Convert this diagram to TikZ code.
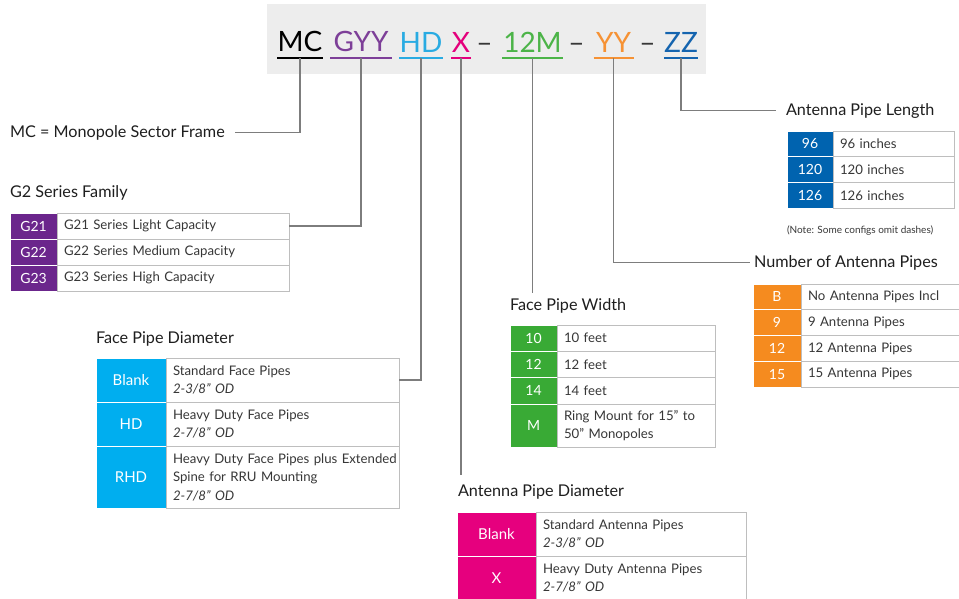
\documentclass[tikz,border=0pt]{standalone}
\usepackage{fontspec}
\setmainfont{Lato}
\usetikzlibrary{positioning}
\definecolor{band}{RGB}{237,237,237}
\definecolor{rule}{RGB}{190,190,190}
\definecolor{linkc}{RGB}{125,125,125}
\definecolor{txt}{RGB}{55,55,55}
\definecolor{head}{RGB}{30,30,30}
\definecolor{gyyc}{RGB}{125,63,152}
\definecolor{pfam}{RGB}{107,38,140}
\definecolor{hdc}{RGB}{41,171,226}
\definecolor{fpdc}{RGB}{0,174,239}
\definecolor{xc}{RGB}{228,0,124}
\definecolor{apdc}{RGB}{230,0,126}
\definecolor{wc}{RGB}{76,180,72}
\definecolor{fpwc}{RGB}{57,170,53}
\definecolor{yyc}{RGB}{246,146,52}
\definecolor{napc}{RGB}{245,139,31}
\definecolor{zzc}{RGB}{20,100,175}
\definecolor{aplc}{RGB}{0,99,175}

\begin{document}
\begin{tikzpicture}[
  x=1pt, y=-1pt,
  every node/.style={inner sep=0pt, outer sep=0pt},
  seg/.style={font=\fontsize{28}{30}\selectfont, anchor=south, inner ysep=6pt},
  ul/.style={line width=1.6pt},
  head/.style={anchor=base west, font=\fontsize{16.2}{18}\selectfont, text=head},
  note/.style={anchor=base west, font=\fontsize{10}{12}\selectfont, text=txt},
  code/.style={fill=#1, draw=white, line width=0.8pt, text=white, anchor=north west,
               align=center, font=\fontsize{14}{16}\selectfont},
  desc/.style={fill=white, draw=rule, line width=0.8pt, align=left, text width=#1,
               inner xsep=7pt, font=\fontsize{13.2}{18.5}\selectfont, text=txt},
  link/.style={draw=linkc, line width=1.2pt},
  g2code/.style={code=pfam, minimum width=47pt, minimum height=26pt},
  g2desc/.style={desc=218pt, minimum height=26pt},
  fpdcode/.style={code=fpdc, minimum width=70pt, font=\fontsize{15}{17}\selectfont},
  fpddesc/.style={desc=219pt},
  fpwcode/.style={code=fpwc, minimum width=47pt},
  fpwdesc/.style={desc=144pt},
  apdcode/.style={code=apdc, minimum width=79pt, minimum height=44pt,
                  font=\fontsize{15}{17}\selectfont},
  apddesc/.style={desc=196pt, minimum height=44pt},
  aplcode/.style={code=aplc, minimum width=46pt, minimum height=25.7pt},
  apldesc/.style={desc=107pt, minimum height=25.7pt},
  napcode/.style={code=napc, minimum width=48pt, minimum height=25.8pt},
  napdesc/.style={desc=160pt, minimum height=25.8pt},
]
\useasboundingbox (0,0) rectangle (959,598);
\clip (0,0) rectangle (959,598);

% part number band
\fill[band] (267,4) rectangle (706,74);
\node[seg, text=black, minimum width=46pt] (mc) at (300,58) {MC};
\node[seg, text=gyyc, minimum width=62pt] (gyy) at (361,58) {GYY};
\node[seg, text=hdc, minimum width=44pt] (hd) at (421,58) {HD};
\node[seg, text=xc, minimum width=20pt] (xseg) at (461,58) {X};
\node[seg, text=txt] (dash1) at (484.5,58) {--};
\node[seg, text=wc, minimum width=61pt] (twelve) at (532.5,58) {12M};
\node[seg, text=txt] (dash2) at (576.5,58) {--};
\node[seg, text=yyc, minimum width=40pt] (yy) at (613.5,58) {YY};
\node[seg, text=txt] (dash3) at (647.5,58) {--};
\node[seg, text=zzc, minimum width=34pt] (zz) at (681,58) {ZZ};
\draw[ul, black] (mc.south west) -- (mc.south east);
\draw[ul, gyyc] (gyy.south west) -- (gyy.south east);
\draw[ul, hdc] (hd.south west) -- (hd.south east);
\draw[ul, xc] (xseg.south west) -- (xseg.south east);
\draw[ul, wc] (twelve.south west) -- (twelve.south east);
\draw[ul, yyc] (yy.south west) -- (yy.south east);
\draw[ul, zzc] (zz.south west) -- (zz.south east);

% headings
\node[head] (mcnote) at (10,137) {MC = Monopole Sector Frame};
\node[head] (g2head) at (10,197) {G2 Series Family};
\node[head] (fpdhead) at (96,343) {Face Pipe Diameter};
\node[head] (fpwhead) at (510,310) {Face Pipe Width};
\node[head] (apdhead) at (458,496) {Antenna Pipe Diameter};
\node[head] (aplhead) at (786,115) {Antenna Pipe Length};
\node[head] (naphead) at (754,267) {Number of Antenna Pipes};
\node[note] (note) at (787,233) {(Note: Some configs omit dashes)};

% G2 series family
\node[g2code] (g21) at (10,213) {G21};
\node[g2desc, right=0pt of g21] (g21d) {G21 Series Light Capacity};
\node[g2code, below=0pt of g21] (g22) {G22};
\node[g2desc, right=0pt of g22] (g22d) {G22 Series Medium Capacity};
\node[g2code, below=0pt of g22] (g23) {G23};
\node[g2desc, right=0pt of g23] (g23d) {G23 Series High Capacity};

% face pipe diameter
\node[fpdcode, minimum height=44pt] (fpdA) at (96,358) {Blank};
\node[fpddesc, minimum height=44pt, right=0pt of fpdA] (fpdAd)
  {Standard Face Pipes\\\textit{2-3/8” OD}};
\node[fpdcode, minimum height=44pt, below=0pt of fpdA] (fpdB) {HD};
\node[fpddesc, minimum height=44pt, right=0pt of fpdB] (fpdBd)
  {Heavy Duty Face Pipes\\\textit{2-7/8” OD}};
\node[fpdcode, minimum height=62pt, below=0pt of fpdB] (fpdC) {RHD};
\node[fpddesc, minimum height=62pt, right=0pt of fpdC] (fpdCd)
  {\mbox{Heavy Duty Face Pipes plus Extended}\\Spine for RRU Mounting\\\textit{2-7/8” OD}};

% face pipe width
\node[fpwcode, minimum height=26.3pt] (fpw10) at (510,325) {10};
\node[fpwdesc, minimum height=26.3pt, right=0pt of fpw10] (fpw10d) {10 feet};
\node[fpwcode, minimum height=26.3pt, below=0pt of fpw10] (fpw12) {12};
\node[fpwdesc, minimum height=26.3pt, right=0pt of fpw12] (fpw12d) {12 feet};
\node[fpwcode, minimum height=26.3pt, below=0pt of fpw12] (fpw14) {14};
\node[fpwdesc, minimum height=26.3pt, right=0pt of fpw14] (fpw14d) {14 feet};
\node[fpwcode, minimum height=43pt, below=0pt of fpw14] (fpwM) {M};
\node[fpwdesc, minimum height=43pt, right=0pt of fpwM] (fpwMd)
  {Ring Mount for 15” to\\50” Monopoles};

% antenna pipe diameter
\node[apdcode] (apdA) at (457,512) {Blank};
\node[apddesc, right=0pt of apdA] (apdAd) {Standard Antenna Pipes\\\textit{2-3/8” OD}};
\node[apdcode, below=0pt of apdA] (apdB) {X};
\node[apddesc, right=0pt of apdB] (apdBd) {Heavy Duty Antenna Pipes\\\textit{2-7/8” OD}};

% antenna pipe length
\node[aplcode] (apl96) at (787,131) {96};
\node[apldesc, right=0pt of apl96] (apl96d) {96 inches};
\node[aplcode, below=0pt of apl96] (apl120) {120};
\node[apldesc, right=0pt of apl120] (apl120d) {120 inches};
\node[aplcode, below=0pt of apl120] (apl126) {126};
\node[apldesc, right=0pt of apl126] (apl126d) {126 inches};

% number of antenna pipes
\node[napcode] (napB) at (753,284) {B};
\node[napdesc, right=0pt of napB] (napBd) {No Antenna Pipes Incl};
\node[napcode, below=0pt of napB] (nap9) {9};
\node[napdesc, right=0pt of nap9] (nap9d) {9 Antenna Pipes};
\node[napcode, below=0pt of nap9] (nap12) {12};
\node[napdesc, right=0pt of nap12] (nap12d) {12 Antenna Pipes};
\node[napcode, below=0pt of nap12] (nap15) {15};
\node[napdesc, right=0pt of nap15] (nap15d) {15 Antenna Pipes};

% connectors
\draw[link] (mc.south) |- ([xshift=10pt]mcnote.east);
\draw[link] (gyy.south) |- (g21d.east);
\draw[link] (hd.south) |- (fpdAd.east);
\draw[link, shorten >=9pt] (xseg.south) -- (xseg.south |- apdhead.north);
\draw[link, shorten >=5pt] (twelve.south) -- (twelve.south |- fpwhead.north);
\draw[link, shorten >=4pt] (yy.south) |- (naphead.west);
\draw[link, shorten >=10pt] (zz.south) |- (aplhead.west);
\end{tikzpicture}
\end{document}
